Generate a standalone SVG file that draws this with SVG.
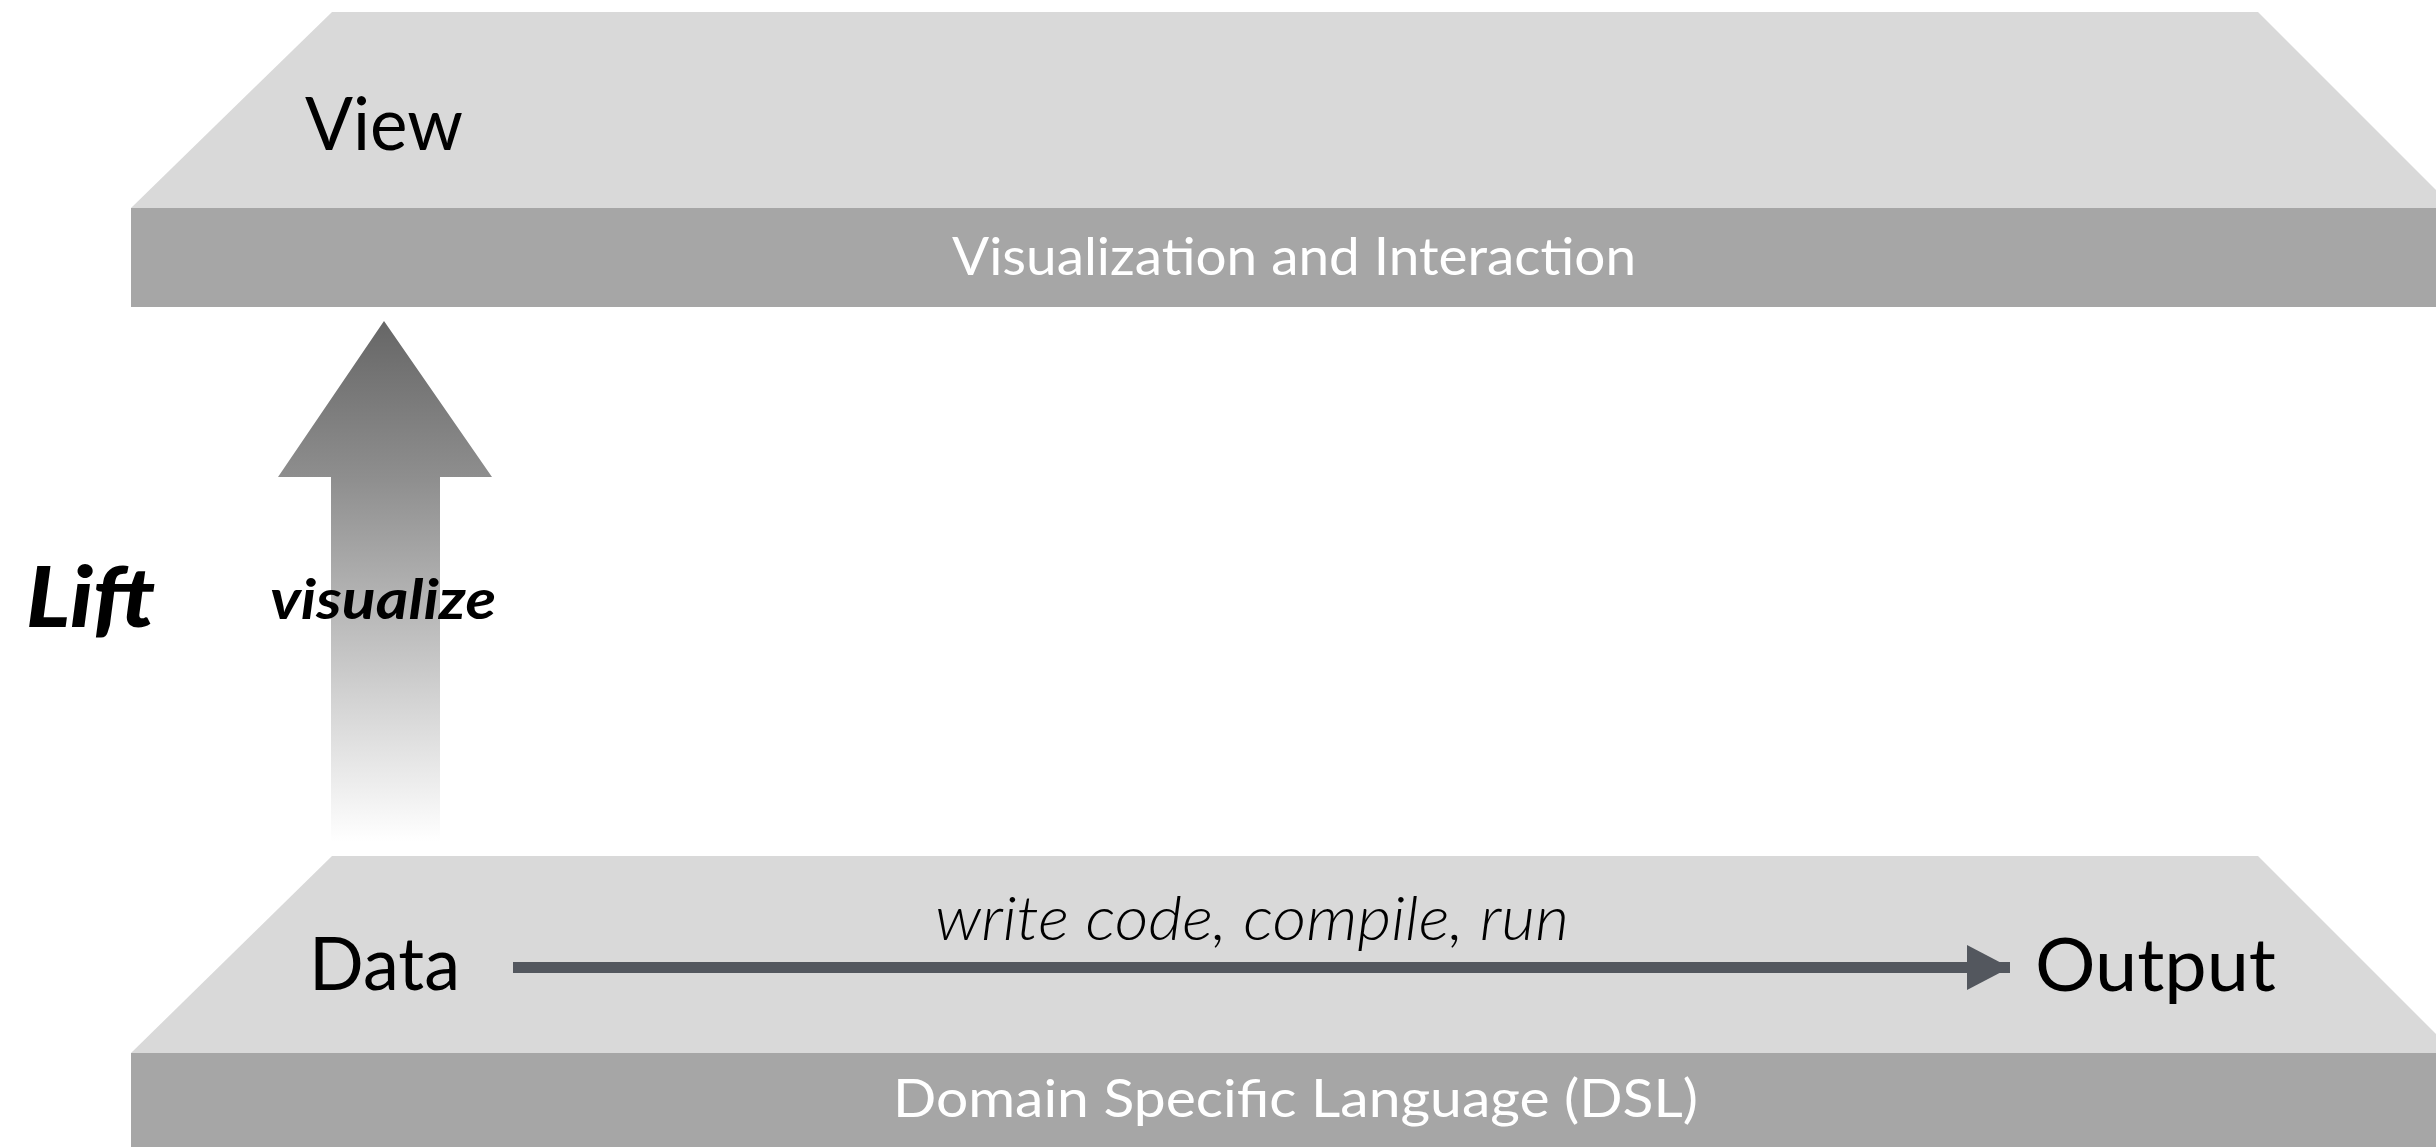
<svg xmlns="http://www.w3.org/2000/svg" width="2436" height="1147" viewBox="0 0 2436 1147">
<style>
.top{fill:#d9d9d9}
.band{fill:#a6a6a6}
.lbl{font-family:Lato,"Noto Sans",sans-serif;fill:#000}
.blbl{font-family:Lato,"Noto Sans",sans-serif;fill:#fff;font-size:53px}
.conn{stroke:#53575e;stroke-width:11;fill:none}
</style>
<defs>
<linearGradient id="liftGrad" gradientUnits="userSpaceOnUse" x1="0" y1="321" x2="0" y2="842">
<stop offset="0" stop-color="#666666"/>
<stop offset="0.3" stop-color="#8e8e8e"/>
<stop offset="1" stop-color="#ffffff"/>
</linearGradient>
<marker id="ah" markerUnits="userSpaceOnUse" markerWidth="44" markerHeight="46" refX="43" refY="22.5" orient="auto" viewBox="0 0 44 46">
<polygon points="0,0 43,22.5 0,45" fill="#53575e"/>
</marker>
</defs>
<rect width="2436" height="1147" fill="#fff"/>
<g id="view-layer">
<polygon class="top" points="332,12 2258,12 2454,208 131,208"/>
<rect class="band" x="131" y="208" width="2305" height="99"/>
<text class="lbl" x="305" y="150" font-size="74" textLength="158" lengthAdjust="spacingAndGlyphs">View</text>
<text class="blbl" x="952" y="275" textLength="684" lengthAdjust="spacingAndGlyphs">Visualization and Interaction</text>
</g>
<g id="dsl-layer">
<polygon class="top" points="332,856 2258,856 2455,1053 131,1053"/>
<rect class="band" x="131" y="1053" width="2305" height="94"/>
<text class="blbl" x="893" y="1117" textLength="805" lengthAdjust="spacingAndGlyphs">Domain Specific Language (DSL)</text>
</g>
<g id="data">
<text class="lbl" x="309" y="990" font-size="74" textLength="151" lengthAdjust="spacingAndGlyphs">Data</text>
</g>
<g id="output">
<text class="lbl" x="2035" y="991" font-size="74" textLength="241" lengthAdjust="spacingAndGlyphs">Output</text>
</g>
<g id="lift">
<polygon points="384,321 492,477 440,477 440,842 331,842 331,477 278,477" fill="url(#liftGrad)"/>
<text class="lbl" x="26" y="627" font-size="83" font-weight="900" font-style="italic" textLength="129" lengthAdjust="spacingAndGlyphs">Lift</text>
<text class="lbl" x="270" y="619" font-size="56" font-weight="bold" font-style="italic" textLength="226" lengthAdjust="spacingAndGlyphs">visualize</text>
</g>
<g id="connectors">
<line class="conn" x1="513" y1="967.5" x2="2010" y2="967.5" marker-end="url(#ah)"/>
<text class="lbl" x="935" y="940" font-size="62" font-style="italic" font-weight="300" textLength="634" lengthAdjust="spacingAndGlyphs">write code, compile, run</text>
</g>
</svg>
